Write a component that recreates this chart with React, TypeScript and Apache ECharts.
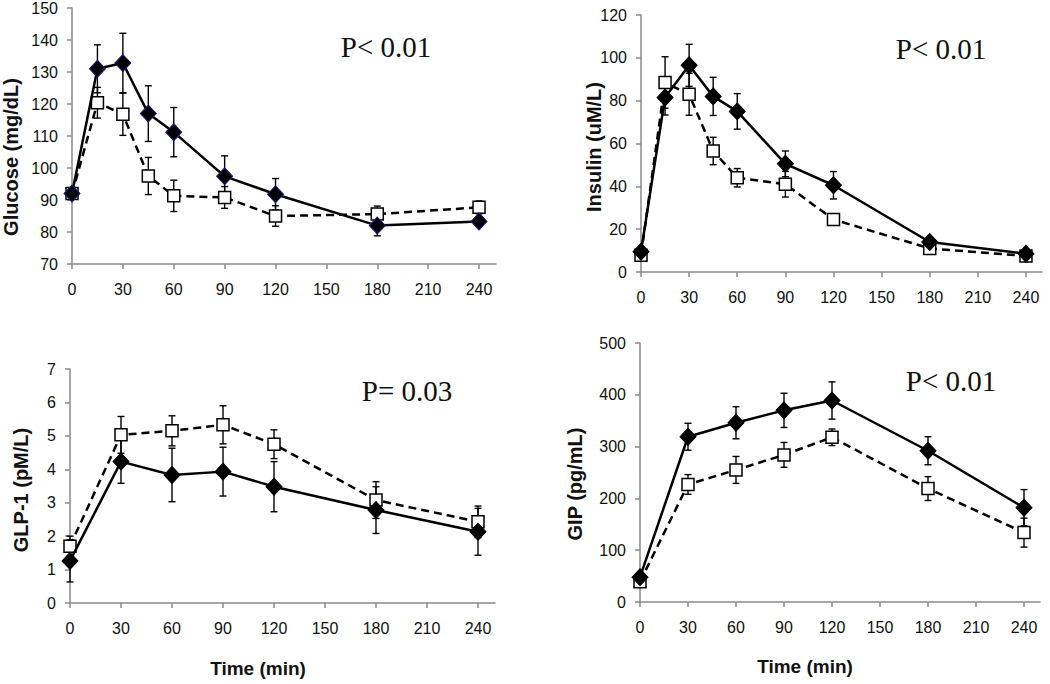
import React, { useEffect, useRef } from "react";
import * as echarts from "echarts";

// ---- Data ----
const timesFull = [0, 15, 30, 45, 60, 90, 120, 180, 240];
const timesShort = [0, 30, 60, 90, 120, 180, 240];
const xTickValues = [0, 30, 60, 90, 120, 150, 180, 210, 240];

const glucoseSolid = [92, 131, 132.8, 117, 111.2, 97.4, 91.8, 82, 83.3];
const glucoseSolidErr = [1.5, 7.5, 9.3, 8.7, 7.7, 6.4, 4.9, 3.2, 1.5];
const glucoseOpen = [92, 120.4, 116.8, 97.5, 91.3, 90.8, 85, 85.6, 87.7];
const glucoseOpenErr = [1.5, 4.8, 6.6, 5.8, 4.9, 3.4, 3.2, 2.5, 2];

const insulinSolid = [9.5, 81.5, 96.5, 82, 75, 50.5, 40.5, 14, 8.5];
const insulinSolidErr = [1, 8.2, 9.8, 8.9, 8.3, 6, 6.4, 2, 1.5];
const insulinOpen = [7.8, 88.5, 83, 56.5, 44, 41, 24.5, 11, 7.5];
const insulinOpenErr = [1, 12, 9.8, 6.4, 4.3, 6, 2, 1.5, 1];

const glpSolid = [1.26, 4.23, 3.83, 3.93, 3.48, 2.78, 2.13];
const glpSolidErr = [0.63, 0.65, 0.8, 0.73, 0.75, 0.7, 0.7];
const glpOpen = [1.7, 5.03, 5.15, 5.33, 4.75, 3.08, 2.43];
const glpOpenErr = [0.3, 0.55, 0.45, 0.57, 0.43, 0.55, 0.47];

const gipSolid = [48, 319, 346, 370, 389, 292, 182];
const gipSolidErr = [5, 26, 31, 33, 36, 27, 35];
const gipOpen = [39, 227, 255, 284, 318, 219, 134];
const gipOpenErr = [5, 19, 26, 24, 16, 23, 28];

const yTitles = ["Glucose (mg/dL)", "Insulin (uM/L)", "GLP-1 (pM/L)", "GIP (pg/mL)"];
const pTexts = ["P< 0.01", "P< 0.01", "P= 0.03", "P< 0.01"];
const xTitle = "Time (min)";

const FONT = "'Liberation Sans', Arial, Helvetica, sans-serif";
const SERIF = "'Liberation Serif', 'Times New Roman', serif";
const AXIS_COLOR = "#8a8a8a";

function errData(times: number[], vals: number[], errs: number[]) {
  return times.map((t, i) => [t, vals[i] - errs[i], vals[i] + errs[i]]);
}
function pts(times: number[], vals: number[]) {
  return times.map((t, i) => [t, vals[i]]);
}

const errRender = (params: any, api: any) => {
  const x = api.value(0);
  const lo = api.coord([x, api.value(1)]);
  const hi = api.coord([x, api.value(2)]);
  const w = 3.5;
  const st = { stroke: "#000", lineWidth: 1.4 };
  return {
    type: "group",
    children: [
      { type: "line", shape: { x1: hi[0], y1: hi[1], x2: lo[0], y2: lo[1] }, style: st },
      { type: "line", shape: { x1: hi[0] - w, y1: hi[1], x2: hi[0] + w, y2: hi[1] }, style: st },
      { type: "line", shape: { x1: lo[0] - w, y1: lo[1], x2: lo[0] + w, y2: lo[1] }, style: st },
    ],
  };
};

export default function App() {
  const ref = useRef<HTMLDivElement>(null);
  useEffect(() => {
    if (!ref.current) return;
    const chart = echarts.init(ref.current, undefined, { renderer: "svg" });

    const grids = [
      { left: 72, top: 7, width: 424, height: 257 },
      { left: 641, top: 15, width: 401, height: 257 },
      { left: 70, top: 369, width: 425, height: 234 },
      { left: 640, top: 343, width: 400, height: 259 },
    ];
    const yRanges = [
      [70, 150, 10],
      [0, 120, 20],
      [0, 7, 1],
      [0, 500, 100],
    ];

    const xAxis = grids.map((_, i) => ({
      type: "value",
      gridIndex: i,
      min: 0,
      max: 250,
      splitLine: { show: false },
      axisLine: { show: true, onZero: false, lineStyle: { color: AXIS_COLOR, width: 1.5 } },
      axisTick: { show: true, customValues: xTickValues, length: 5, lineStyle: { color: AXIS_COLOR, width: 1.5 } },
      axisLabel: { customValues: xTickValues, color: "#111", fontSize: 16, fontFamily: FONT, margin: 17 },
    }));
    const yAxis = grids.map((_, i) => ({
      type: "value",
      gridIndex: i,
      min: yRanges[i][0],
      max: yRanges[i][1],
      interval: yRanges[i][2],
      splitLine: { show: false },
      axisLine: { show: true, onZero: false, lineStyle: { color: AXIS_COLOR, width: 1.5 } },
      axisTick: { show: true, length: 5, lineStyle: { color: AXIS_COLOR, width: 1.5 } },
      axisLabel: { color: "#111", fontSize: 16, fontFamily: FONT, margin: 14 },
    }));

    const panels = [
      { t: timesFull, s: glucoseSolid, se: glucoseSolidErr, o: glucoseOpen, oe: glucoseOpenErr, border: "#1a1a80" },
      { t: timesFull, s: insulinSolid, se: insulinSolidErr, o: insulinOpen, oe: insulinOpenErr, border: "#000" },
      { t: timesShort, s: glpSolid, se: glpSolidErr, o: glpOpen, oe: glpOpenErr, border: "#000" },
      { t: timesShort, s: gipSolid, se: gipSolidErr, o: gipOpen, oe: gipOpenErr, border: "#000" },
    ];

    const series: any[] = [];
    panels.forEach((p, i) => {
      series.push({
        type: "custom",
        name: "Open error",
        xAxisIndex: i,
        yAxisIndex: i,
        renderItem: errRender,
        encode: { x: 0, y: [1, 2] },
        data: errData(p.t, p.o, p.oe),
        z: 2,
      });
      series.push({
        type: "custom",
        name: "Solid error",
        xAxisIndex: i,
        yAxisIndex: i,
        renderItem: errRender,
        encode: { x: 0, y: [1, 2] },
        data: errData(p.t, p.s, p.se),
        z: 2,
      });
      series.push({
        type: "line",
        name: "Open squares",
        xAxisIndex: i,
        yAxisIndex: i,
        data: pts(p.t, p.o),
        symbol: "rect",
        symbolSize: 12,
        showAllSymbol: true,
        lineStyle: { color: "#000", width: 2.5, type: [8, 5] },
        itemStyle: { color: "#fff", borderColor: "#000", borderWidth: 1.5 },
        z: 3,
      });
      series.push({
        type: "line",
        name: "Filled diamonds",
        xAxisIndex: i,
        yAxisIndex: i,
        data: pts(p.t, p.s),
        symbol: "diamond",
        symbolSize: [16, 17],
        showAllSymbol: true,
        lineStyle: { color: "#000", width: 2.5 },
        itemStyle: { color: "#000", borderColor: p.border, borderWidth: 1 },
        z: 4,
      });
    });

    const yTitlePos = [
      [11, 157],
      [594, 147],
      [21, 490],
      [575, 484],
    ];
    const pPos = [
      [386, 47],
      [941, 49],
      [407, 391],
      [951, 381],
    ];
    const graphic: any[] = [];
    yTitles.forEach((t, i) => {
      graphic.push({
        type: "text",
        x: yTitlePos[i][0],
        y: yTitlePos[i][1],
        rotation: Math.PI / 2,
        style: {
          text: t,
          fontSize: 20,
          fontWeight: "bold",
          fontFamily: FONT,
          fill: "#111",
          align: "center",
          verticalAlign: "middle",
        },
      });
    });
    pTexts.forEach((t, i) => {
      graphic.push({
        type: "text",
        x: pPos[i][0],
        y: pPos[i][1],
        style: {
          text: t,
          fontSize: 29,
          fontFamily: SERIF,
          fill: "#111",
          align: "center",
          verticalAlign: "middle",
        },
      });
    });
    [[258, 668], [805, 666]].forEach(([x, y]) => {
      graphic.push({
        type: "text",
        x,
        y,
        style: {
          text: xTitle,
          fontSize: 19,
          fontWeight: "bold",
          fontFamily: FONT,
          fill: "#111",
          align: "center",
          verticalAlign: "middle",
        },
      });
    });

    chart.setOption({
      animation: false,
      backgroundColor: "#fff",
      grid: grids,
      xAxis,
      yAxis,
      series,
      graphic,
    });
    return () => chart.dispose();
  }, []);
  return (
    <div
      ref={ref}
      style={{ position: "absolute", left: 0, top: 0, width: 1050, height: 684 }}
    />
  );
}
